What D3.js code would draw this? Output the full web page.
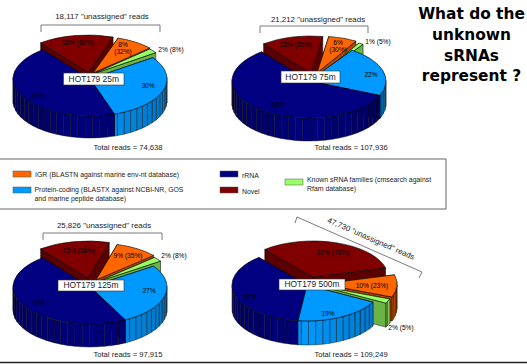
<!DOCTYPE html>
<html><head><meta charset="utf-8">
<script src="https://cdnjs.cloudflare.com/ajax/libs/d3/7.8.5/d3.min.js"></script>
<style>html,body{margin:0;padding:0;background:#fff}svg{display:block}text{font-family:"Liberation Sans",Arial,sans-serif;fill:#222}</style>
</head><body><svg id="c" width="527" height="364"></svg>
<script>
// ---- data ----
const stations = ["HOT179 25m","HOT179 75m","HOT179 125m","HOT179 500m"];
const categories = ["Novel","IGR","Known","Protein","rRNA"];
const novel   = [16,13,15,32];
const igr     = [8,6,9,10];
const known   = [2,1,2,2];
const protein = [30,22,27,19];
const rrna    = [45,58,47,37];
const ofUnassigned = { novel:[60,65,58,73], igr:[32,30,35,23], known:[8,5,8,5] };
const unassignedLabels = ['18,117 "unassigned" reads','21,212 "unassigned" reads','25,826 "unassigned" reads','47,730 "unassigned" reads'];
const totalLabels = ["Total reads = 74,638","Total reads = 107,936","Total reads = 97,915","Total reads = 109,249"];
const titleLines = ["What do the","unknown","sRNAs","represent ?"];

// ---- layout and styles ----
const colors = {Novel:"#800000",IGR:"#ff6600",Known:"#99ff66",Protein:"#0099ff",rRNA:"#000080"};
const layouts = [
 {cx:90, cy:79, rx:77,ry:37,depth:22,start:-38,
  explode:{Novel:[-2,-7],IGR:[3,-6],Known:[3,-5],Protein:[0,0],rRNA:[0,0]},
  box:[63.5,73,60.5,12],un:[102,19],tot:[128,150],br:[41,160,25,32],
  lab:{Novel:[78,45],IGR:[123,47],IGR2:[123,54],Known:[171,52],Protein:[148,88],rRNA:[38,98]}},
 {cx:309,cy:81,rx:77,ry:37,depth:23,start:-38,
  explode:{Novel:[2,-8],IGR:[8,-8],Known:[11,-6],Protein:[0,0],rRNA:[0,0]},
  box:[281,71,59,12],un:[318,22],tot:[351,150],br:[260,368,26,33],
  lab:{Novel:[296,47],IGR:[338,44.5],IGR2:[338,51.5],Known:[378,44],Protein:[371,77],rRNA:[278,107]}},
 {cx:90,cy:287,rx:77,ry:37,depth:23,start:-38,
  explode:{Novel:[-2,-9],IGR:[6,-7],Known:[7,-5],Protein:[0,0],rRNA:[0,0]},
  box:[58,280,66,11],un:[104,228],tot:[128,357],br:[43,162,233,240],
  lab:{Novel:[79,253],IGR:[128,258],Known:[174,258],Protein:[149,293],rRNA:[38,305]}},
 {cx:307,cy:285,rx:75,ry:36,depth:24,start:-40,
  explode:{Novel:[6,-8],IGR:[15,-1],Known:[13,1],Protein:[0,0],rRNA:[0,0]},
  box:[279,279,66,11],tot:[351,357],
  lab:{Novel:[333,255],IGR:[372,288],Known:[401,330],Protein:[328,316],rRNA:[250,299]}}
];
const RAD = Math.PI/180;
const svg = d3.select("#c");
const shade = (c,k)=>d3.rgb(c).darker(k).formatHex();

stations.forEach((name,i)=>{
  const L = layouts[i];
  const vals = [novel[i],igr[i],known[i],protein[i],rrna[i]];
  const start = L.start*RAD;
  const arcs = d3.pie().sort(null).startAngle(start).endAngle(start+2*Math.PI)(vals)
    .map((d,j)=>({...d,cat:categories[j]}));
  const g = svg.append("g");
  const pt = (a,o,z=0)=>[L.cx+o[0]+L.rx*Math.sin(a), L.cy+o[1]-L.ry*Math.cos(a)+z];
  const arcTop = d3.arc().innerRadius(0).outerRadius(1);
  // painter's order: back slices first
  const order = arcs.slice().sort((a,b)=>(-Math.cos((a.startAngle+a.endAngle)/2))-(-Math.cos((b.startAngle+b.endAngle)/2)));
  order.forEach(d=>{
    const o = L.explode[d.cat], col = colors[d.cat];
    const apex = [L.cx+o[0], L.cy+o[1]];
    const sg = g.append("g");
    // radial walls
    [d.startAngle,d.endAngle].forEach(a=>{
      const e = pt(a,o);
      sg.append("path").attr("d",d3.line()([apex,e,[e[0],e[1]+L.depth],[apex[0],apex[1]+L.depth]])+"Z")
        .attr("fill",shade(col,1)).attr("stroke","#000").attr("stroke-width",.5);
    });
    // outer wall as facets, shaded by facing angle
    const stepDeg = 5.5*RAD;
    const s = d3.range(d.startAngle,d.endAngle,stepDeg).concat(d.endAngle);
    d3.pairs(s).forEach(([a,b])=>{
      if (Math.cos((a+b)/2)>0.02) return;
      const p1=pt(a,o),p2=pt(b,o);
      const k = Math.min(1.5,Math.abs(Math.sin((a+b)/2))*1.5);
      sg.append("path").attr("d",d3.line()([p1,p2,[p2[0],p2[1]+L.depth],[p1[0],p1[1]+L.depth]])+"Z")
        .attr("fill",shade(col,k*0.5)).attr("stroke","#000").attr("stroke-width",.4);
    });
    // top
    sg.append("path")
      .attr("d",arcTop({startAngle:d.startAngle,endAngle:d.endAngle}))
      .attr("transform",`translate(${apex[0]},${apex[1]}) scale(${L.rx},${L.ry})`)
      .attr("fill",col).attr("stroke","#000").attr("stroke-width",.6).attr("vector-effect","non-scaling-stroke");
  });
  // percent labels
  const lab = (p,t,anchor="middle")=>g.append("text").attr("x",p[0]).attr("y",p[1]).attr("text-anchor",anchor).attr("font-size",6.6).style("fill","#000").text(t);
  lab(L.lab.Novel,`${novel[i]}% (${ofUnassigned.novel[i]}%)`);
  if (L.lab.IGR2){ lab(L.lab.IGR,`${igr[i]}%`); lab(L.lab.IGR2,`(${ofUnassigned.igr[i]}%)`);}
  else lab(L.lab.IGR,`${igr[i]}% (${ofUnassigned.igr[i]}%)`);
  lab(L.lab.Known,`${known[i]}% (${ofUnassigned.known[i]}%)`);
  lab(L.lab.Protein,`${protein[i]}%`);
  lab(L.lab.rRNA,`${rrna[i]}%`);
  // station box
  g.append("rect").attr("x",L.box[0]).attr("y",L.box[1]).attr("width",L.box[2]).attr("height",L.box[3]).attr("fill","#fff").attr("stroke","#333").attr("stroke-width",.6);
  g.append("text").attr("x",L.box[0]+L.box[2]/2).attr("y",L.box[1]+L.box[3]-3).attr("text-anchor","middle").attr("font-size",8.4).text(name);
  // totals
  g.append("text").attr("x",L.tot[0]).attr("y",L.tot[1]).attr("text-anchor","middle").attr("font-size",7.6).text(totalLabels[i]);
  // brackets
  if (L.br){
    const [x0,x1,y0,y1]=L.br;
    g.append("path").attr("d",d3.line()([[x0,y1],[x0,y0],[x1,y0],[x1,y1]])).attr("fill","none").attr("stroke","#444").attr("stroke-width",.7);
    g.append("text").attr("x",L.un[0]).attr("y",L.un[1]).attr("text-anchor","middle").attr("font-size",7.9).text(unassignedLabels[i]);
  } else {
    g.append("path").attr("d",d3.line()([[295,223],[297,217],[422,272],[419,278]])).attr("fill","none").attr("stroke","#444").attr("stroke-width",.7);
    g.append("text").attr("transform","translate(370,241) rotate(23.5)").attr("text-anchor","middle").attr("font-size",7.9).text(unassignedLabels[i]);
  }
});

// legend
svg.append("rect").attr("x",-2).attr("y",159).attr("width",448).attr("height",50).attr("fill","#fff").attr("stroke","#666").attr("stroke-width",1);
const legendItems = [
 {c:"IGR",x:13,y:171,lines:["IGR (BLASTN against marine env-nt database)"],tx:35,ty:177},
 {c:"Protein",x:13,y:187,lines:["Protein-coding (BLASTX against NCBI-NR, GOS","and marine peptide database)"],tx:34.5,ty:192},
 {c:"rRNA",x:220,y:171,lines:["rRNA"],tx:242,ty:178},
 {c:"Novel",x:220,y:187,lines:["Novel"],tx:242,ty:194},
 {c:"Known",x:285,y:179,lines:["Known sRNA families (cmsearch against","Rfam database)"],tx:307,ty:182}
];
legendItems.forEach(d=>{
  svg.append("rect").attr("x",d.x).attr("y",d.y).attr("width",18).attr("height",6).attr("fill",colors[d.c]).attr("stroke","#555").attr("stroke-width",.5);
  d.lines.forEach((t,k)=>svg.append("text").attr("x",d.tx).attr("y",d.ty+k*8.5).attr("font-size",6.9).text(t));
});

// title
titleLines.forEach((t,k)=>svg.append("text").attr("x",471.5).attr("y",19+k*20.8).attr("text-anchor","middle")
  .attr("font-size",15.4).attr("font-weight","bold").style("font-family","'DejaVu Sans',sans-serif").style("fill","#000").text(t));

// rule at bottom
svg.append("line").attr("x1",0).attr("x2",527).attr("y1",362.5).attr("y2",362.5).attr("stroke","#222").attr("stroke-width",1.5);
</script></body></html>
